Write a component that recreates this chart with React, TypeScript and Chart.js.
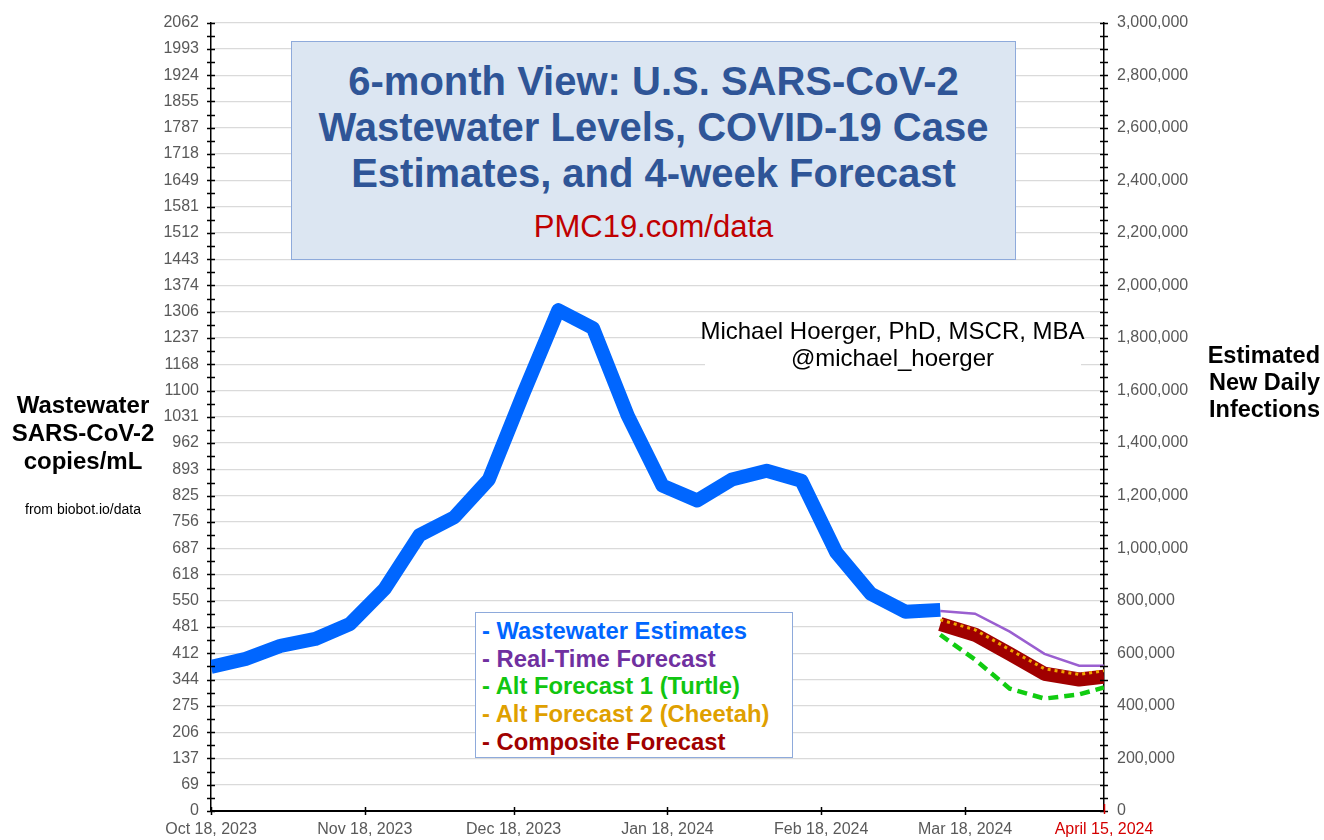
import React, { useEffect, useRef } from "react";
import { Chart, registerables } from "chart.js";

Chart.register(...registerables);

const FONT = '"Liberation Sans", Arial, sans-serif';

// ---- data ----
const wastewaterDays = [0, 7, 14, 21, 28, 35, 42, 49, 56, 63, 70, 77, 84, 91, 98, 105, 112, 119, 126, 133, 140, 147];
const wastewaterValues = [377, 398, 432, 450, 489, 581, 721, 768, 867, 1093, 1310, 1263, 1034, 851, 812, 867, 890, 864, 677, 568, 521, 526];

const forecastDays = [147, 154, 161, 168, 175, 180];
const realTimeForecast = [523, 516, 469, 411, 380, 380];
const turtleForecast = [461, 396, 320, 294, 305, 323];
const cheetahForecast = [500, 474, 422, 372, 357, 367];
const compositeForecast = [489, 461, 411, 359, 344, 351];

const xTickDays = [0, 31, 61, 92, 123, 152, 180];
const xTickLabels = ["Oct 18, 2023", "Nov 18, 2023", "Dec 18, 2023", "Jan 18, 2024", "Feb 18, 2024", "Mar 18, 2024", "April 15, 2024"];

const leftMax = 2062;
const leftTickLabels = ["0", "69", "137", "206", "275", "344", "412", "481", "550", "618", "687", "756", "825", "893", "962", "1031", "1100", "1168", "1237", "1306", "1374", "1443", "1512", "1581", "1649", "1718", "1787", "1855", "1924", "1993", "2062"];
const rightMax = 3000000;
const rightStep = 200000;

const legendItems = [
  { text: "- Wastewater Estimates", color: "#0066ff" },
  { text: "- Real-Time Forecast", color: "#7030a0" },
  { text: "- Alt Forecast 1 (Turtle)", color: "#11c611" },
  { text: "- Alt Forecast 2 (Cheetah)", color: "#dfa000" },
  { text: "- Composite Forecast", color: "#a00000" },
];

const GRAY = "#595959";
const RED = "#d40000";

const toPoints = (xs: number[], ys: number[]) => xs.map((x, i) => ({ x, y: ys[i] }));

const axisTicksPlugin = {
  id: "axisTicks",
  afterDraw(chart: any) {
    const { ctx, chartArea, scales } = chart;
    const { left, right, bottom } = chartArea;
    const y = scales.y;
    const x = scales.x;
    ctx.save();
    ctx.strokeStyle = "#000";
    ctx.lineWidth = 1.5;
    const n = (leftTickLabels.length - 1) * 2;
    for (let i = 0; i <= n; i++) {
      const py = Math.round(y.getPixelForValue((i * leftMax) / n)) + 0.5;
      ctx.beginPath();
      ctx.moveTo(left - 4, py);
      ctx.lineTo(left + 4, py);
      ctx.moveTo(right - 4, py);
      ctx.lineTo(right + 4, py);
      ctx.stroke();
    }
    xTickDays.forEach((d, i) => {
      const px = Math.round(x.getPixelForValue(d)) + 0.5;
      const last = i === xTickDays.length - 1;
      ctx.strokeStyle = last ? RED : "#000";
      ctx.beginPath();
      ctx.moveTo(px, bottom - (last ? 7 : 4));
      ctx.lineTo(px, bottom + (last ? 3 : 4));
      ctx.stroke();
    });
    ctx.restore();
  },
};

export default function App() {
  const canvasRef = useRef<HTMLCanvasElement | null>(null);

  useEffect(() => {
    if (!canvasRef.current) return;
    Chart.defaults.font.family = FONT;
    const chart = new Chart(canvasRef.current, {
      type: "line",
      data: {
        datasets: [
          {
            label: "Wastewater Estimates",
            data: toPoints(wastewaterDays, wastewaterValues),
            borderColor: "#0066ff",
            borderWidth: 14,
            borderJoinStyle: "round",
            borderCapStyle: "butt",
            pointRadius: 0,
            tension: 0,
          },
          {
            label: "Real-Time Forecast",
            data: toPoints(forecastDays, realTimeForecast),
            borderColor: "#9a5fd0",
            borderWidth: 2.5,
            pointRadius: 0,
            tension: 0,
          },
          {
            label: "Alt Forecast 1 (Turtle)",
            data: toPoints(forecastDays, turtleForecast),
            borderColor: "#11cc11",
            borderWidth: 4.5,
            borderDash: [10, 6],
            pointRadius: 0,
            tension: 0,
          },
          {
            label: "Alt Forecast 2 (Cheetah)",
            data: toPoints(forecastDays, cheetahForecast),
            borderColor: "#f0a800",
            borderWidth: 3,
            borderDash: [3, 4],
            pointRadius: 0,
            tension: 0,
          },
          {
            label: "Composite Forecast",
            data: toPoints(forecastDays, compositeForecast),
            borderColor: "#a00000",
            borderWidth: 14,
            borderJoinStyle: "round",
            borderCapStyle: "butt",
            pointRadius: 0,
            tension: 0,
          },
        ],
      },
      options: {
        animation: false,
        responsive: false,
        maintainAspectRatio: false,
        layout: { padding: { top: 19, left: 0, right: 0, bottom: 0 } },
        plugins: {
          legend: { display: false },
          tooltip: { enabled: false },
        },
        scales: {
          x: {
            type: "linear",
            position: "bottom",
            min: 0,
            max: 180,
            afterBuildTicks: (s: any) => {
              s.ticks = xTickDays.map((v) => ({ value: v }));
            },
            afterFit: (s: any) => {
              s.height = 29;
            },
            grid: { drawOnChartArea: false, drawTicks: false },
            border: { color: "#000", width: 2 },
            ticks: {
              autoSkip: false,
              maxRotation: 0,
              padding: 9,
              font: { family: FONT, size: 16 },
              color: (ctx: any) => (ctx.index === xTickDays.length - 1 ? RED : GRAY),
              callback: (v: any) => {
                const i = xTickDays.indexOf(Number(v));
                return i >= 0 ? xTickLabels[i] : "";
              },
            },
          },
          y: {
            position: "left",
            min: 0,
            max: leftMax,
            afterBuildTicks: (s: any) => {
              s.ticks = leftTickLabels.map((_, i) => ({ value: (i * leftMax) / (leftTickLabels.length - 1) }));
            },
            afterFit: (s: any) => {
              s.width = 211;
            },
            grid: { color: "#dadada", lineWidth: 1.2, drawTicks: false },
            border: { color: "#000", width: 1.5 },
            ticks: {
              padding: 12,
              font: { family: FONT, size: 16 },
              color: GRAY,
              autoSkip: false,
              callback: (_v: any, i: number) => leftTickLabels[i],
            },
          },
          y2: {
            position: "right",
            min: 0,
            max: rightMax,
            afterFit: (s: any) => {
              s.width = 220;
            },
            grid: { drawOnChartArea: false, drawTicks: false },
            border: { color: "#000", width: 1.5 },
            ticks: {
              stepSize: rightStep,
              padding: 13,
              autoSkip: false,
              font: { family: FONT, size: 16 },
              color: GRAY,
              callback: (v: any) => Number(v).toLocaleString("en-US"),
            },
          },
        },
      } as any,
      plugins: [axisTicksPlugin],
    });
    return () => chart.destroy();
  }, []);

  return (
    <div style={{ position: "absolute", left: 0, top: 0, width: 1324, height: 840, fontFamily: FONT, background: "#fff" }}>
      <canvas ref={canvasRef} width={1324} height={840} style={{ position: "absolute", left: 0, top: 0, width: 1324, height: 840 }} />

      {/* Title box */}
      <div
        style={{
          position: "absolute",
          left: 291,
          top: 41,
          width: 723,
          height: 217,
          background: "#dce6f2",
          border: "1.5px solid #8eaadb",
          textAlign: "center",
        }}
      >
        <div style={{ marginTop: 16, fontSize: 40, lineHeight: "46px", fontWeight: 700, color: "#2f5597", whiteSpace: "nowrap" }}>
          6-month View: U.S. SARS-CoV-2
          <br />
          Wastewater Levels, COVID-19 Case
          <br />
          Estimates, and 4-week Forecast
        </div>
        <div style={{ marginTop: 13, fontSize: 31, lineHeight: "36px", color: "#c00000" }}>PMC19.com/data</div>
      </div>

      {/* Author (white backing interrupts gridlines) */}
      <div style={{ position: "absolute", left: 705, top: 317, width: 376, height: 56, background: "#fff" }} />
      <div
        style={{
          position: "absolute",
          left: 680,
          top: 317,
          width: 425,
          textAlign: "center",
          fontSize: 24,
          lineHeight: "27px",
          color: "#000",
          whiteSpace: "nowrap",
        }}
      >
        Michael Hoerger, PhD, MSCR, MBA
        <br />
        @michael_hoerger
      </div>

      {/* Left axis title */}
      <div
        style={{
          position: "absolute",
          left: 0,
          top: 391,
          width: 166,
          textAlign: "center",
          fontSize: 24,
          lineHeight: "28px",
          fontWeight: 700,
          color: "#000",
        }}
      >
        Wastewater
        <br />
        SARS-CoV-2
        <br />
        copies/mL
      </div>
      <div style={{ position: "absolute", left: 0, top: 500, width: 166, textAlign: "center", fontSize: 14, lineHeight: "18px", color: "#000" }}>
        from biobot.io/data
      </div>

      {/* Right axis title */}
      <div
        style={{
          position: "absolute",
          left: 1200,
          top: 342,
          width: 124,
          textAlign: "right",
          paddingRight: 4,
          boxSizing: "border-box",
          fontSize: 23.5,
          lineHeight: "27px",
          fontWeight: 700,
          color: "#000",
        }}
      >
        Estimated
        <br />
        New Daily
        <br />
        Infections
      </div>

      {/* Legend box */}
      <div
        style={{
          position: "absolute",
          left: 475,
          top: 612,
          width: 318,
          height: 146,
          background: "#fff",
          border: "1.5px solid #8eaadb",
          boxSizing: "border-box",
          paddingLeft: 6,
          paddingTop: 4,
        }}
      >
        {legendItems.map((it) => (
          <div key={it.text} style={{ color: it.color, fontWeight: 700, fontSize: 23.8, lineHeight: "27.7px", whiteSpace: "nowrap" }}>
            {it.text}
          </div>
        ))}
      </div>
    </div>
  );
}
